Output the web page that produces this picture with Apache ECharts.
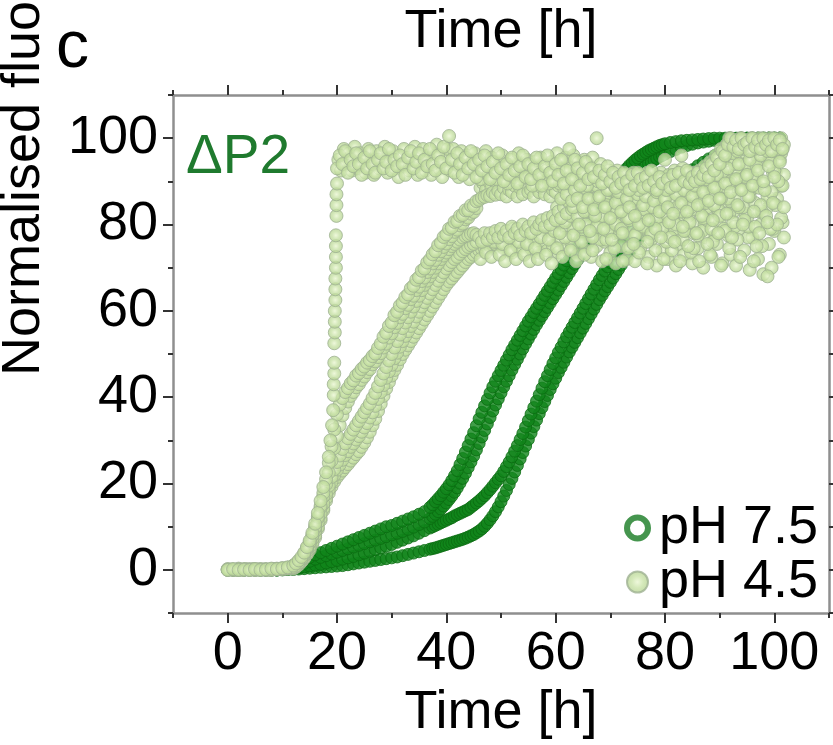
<!DOCTYPE html>
<html><head><meta charset="utf-8">
<script src="https://cdn.jsdelivr.net/npm/echarts@6/dist/echarts.min.js"></script>
<style>html,body{margin:0;padding:0;background:#fff}#c{width:833px;height:745px}</style>
</head><body><div id="c"></div>
<script>
const FONT = "'Liberation Sans', Arial, Helvetica, sans-serif";
const majorTicks = [0, 20, 40, 60, 80, 100];
const minorTicks = [-10, 10, 30, 50, 70, 90, 110];

// sampling times of the pH 7.5 traces [h]
const tDark = [0,1,2,3,4,5,6,7,8,9,
10,11,12,13,14,15,16,17,18,19,20,21,22,23,24,25,26,27,28,29,30,31,32,33,34,35,36,37,
37.5,38,38.5,39,39.5,40,40.5,41,41.5,42,42.5,43,43.5,44,
44.5,45,45.5,46,46.5,47,47.5,48,48.5,49,49.5,50,50.5,51,51.5,52,52.5,53,53.5,54,54.5,55,55.5,56,56.5,57,57.5,58,58.5,59,59.5,60,60.5,61,61.5,62,62.5,63,63.5,64,64.5,65,65.5,66,66.5,67,67.5,68,68.5,69,69.5,70,70.5,71,71.5,72,72.5,73,73.5,74,74.5,75,75.5,76,76.5,77,77.5,78,78.5,79,79.5,80,
81,82,83,84,85,86,87,88,89,90,91,92,93,94,95,96,97,98,99,100,101];

// pH 7.5 replicates (normalised fluorescence, %)
const ph75_rep1 = [0,0,0,0,0,0,0,0,0,0,
0.3,0.6,1.0,1.6,2.2,2.9,3.5,4.0,4.5,5.0,5.5,6.0,6.5,7.0,7.5,8.0,8.5,9.0,9.5,10.0,10.3,10.8,11.3,11.8,12.3,12.9,13.5,14.5,
15.1,15.8,16.5,17.2,18.0,18.8,19.7,20.7,21.8,23.0,24.4,25.8,27.3,28.8,
30.3,31.8,33.4,35.0,36.5,38.0,39.5,41.0,42.4,43.7,45.0,46.2,47.4,48.6,49.8,51.0,52.1,53.2,54.3,55.4,56.5,57.6,58.6,59.6,60.6,61.6,62.6,63.6,64.6,65.6,66.6,67.6,68.6,69.6,70.6,71.6,72.6,73.6,74.6,75.6,76.6,77.6,78.6,79.6,80.6,81.6,82.6,83.6,84.6,85.6,86.6,87.6,88.6,89.6,90.5,91.4,92.2,93.0,93.7,94.3,94.9,95.4,95.9,96.3,96.7,97.1,97.4,97.7,98.0,98.3,98.5,98.7,
99.0,99.2,99.4,99.5,99.6,99.7,99.8,99.9,100,100,100,100,100,100,100,100,100,100,100,100,100];
const ph75_rep2 = [0,0,0,0,0,0,0,0,0,0,
0.2,0.4,0.7,1.1,1.5,2.0,2.5,2.9,3.3,3.7,4.1,4.5,4.9,5.3,5.7,6.1,6.5,6.9,7.3,7.7,8.1,8.5,8.9,9.4,9.9,10.5,11.1,11.9,
12.4,12.9,13.5,14.1,14.8,15.5,16.3,17.1,18.0,19.0,20.1,21.2,22.4,23.7,
25.0,26.4,27.8,29.3,30.8,32.3,33.8,35.3,36.8,38.2,39.6,41.0,42.4,43.7,45.0,46.3,47.6,48.8,50.0,51.2,52.4,53.5,54.6,55.7,56.8,57.8,58.8,59.8,60.8,61.8,62.8,63.8,64.8,65.8,66.8,67.8,68.8,69.8,70.8,71.8,72.8,73.8,74.8,75.8,76.8,77.8,78.8,79.8,80.8,81.8,82.8,83.8,84.8,85.8,86.7,87.6,88.4,89.2,90.0,90.7,91.4,92.0,92.6,93.1,93.6,94.1,94.5,94.9,95.3,95.7,96.0,96.3,
96.9,97.4,97.9,98.3,98.6,98.9,99.1,99.3,99.5,99.6,99.7,99.8,99.9,100,100,100,100,100,100,100,100];
const ph75_rep3 = [0,0,0,0,0,0,0,0,0,0,
0.1,0.2,0.3,0.5,0.7,0.9,1.1,1.3,1.6,1.9,2.2,2.5,2.8,3.1,3.5,3.9,4.3,4.7,5.1,5.5,5.9,6.4,6.9,7.4,7.9,8.5,9.1,9.7,
10.0,10.3,10.6,10.9,11.2,11.5,11.8,12.1,12.5,12.8,13.1,13.4,13.7,14.0,
14.5,15.0,15.5,16.0,16.6,17.2,17.9,18.6,19.4,20.2,21.0,21.8,22.8,23.9,25.0,26.2,27.5,28.8,30.2,31.6,33.1,34.6,36.1,37.6,39.1,40.6,42.1,43.6,45.0,46.4,47.8,49.1,50.4,51.6,52.8,54.0,55.1,56.2,57.3,58.4,59.5,60.6,61.7,62.8,63.9,65.0,66.1,67.2,68.2,69.2,70.2,71.2,72.2,73.2,74.2,75.2,76.1,77.0,77.9,78.8,79.6,80.4,81.2,82.0,82.8,83.5,84.2,84.9,85.6,86.3,86.9,87.5,
88.7,89.8,90.8,91.8,92.7,93.6,94.4,95.2,95.9,96.6,97.2,97.7,98.2,98.6,99.0,99.3,99.6,99.8,100,100,100];
const ph75_rep4 = [0,0,0,0,0,0,0,0,0,0,
0,0.1,0.1,0.2,0.3,0.4,0.5,0.6,0.7,0.8,0.9,1.0,1.2,1.4,1.6,1.8,2.0,2.2,2.4,2.6,2.8,3.0,3.3,3.6,3.9,4.2,4.5,4.8,
4.95,5.1,5.3,5.5,5.7,5.9,6.1,6.3,6.5,6.7,6.9,7.1,7.35,7.6,
7.9,8.2,8.6,9.0,9.5,10.1,10.8,11.6,12.5,13.5,14.6,15.8,17.1,18.4,19.8,21.2,22.7,24.2,25.7,27.2,28.7,30.2,31.7,33.2,34.7,36.2,37.6,39.0,40.4,41.8,43.1,44.4,45.7,46.9,48.1,49.3,50.5,51.6,52.7,53.8,54.9,56.0,57.1,58.2,59.3,60.4,61.5,62.6,63.6,64.6,65.6,66.6,67.6,68.6,69.6,70.6,71.6,72.6,73.6,74.6,75.5,76.4,77.3,78.2,79.1,80.0,80.9,81.8,82.6,83.4,84.2,85.0,
86.4,87.7,88.9,90.0,91.0,92.0,92.9,93.7,94.5,95.2,95.9,96.5,97.1,97.6,98.1,98.5,98.9,99.2,99.5,99.7,99.9];

// pH 4.5 replicates, [time h, fluorescence %]
const ph45_rep1 = [[0,0],[1,0.2],[2,0],[3,0.1],[4,0],[5,0.2],[6,0],[7,0.1],[8,0.3],[9,0.2],[10,0.4],[11,0.6],
[12,1.0],[12.5,1.5],[13,2.2],[13.5,3.0],[14,4.0],[14.5,5.3],[15,6.8],[15.5,8.6],[16,10.7],[16.5,13.2],[17,16],[17.5,19.2],[18,22.6],[18.5,26.2],[18.8,30],[19.1,33.5],[19.3,37],
[19.4,40.5],[19.4,43],[19.5,45.5],[19.5,48],[19.5,52.5],[19.6,55],[19.6,57.5],[19.6,60],[19.7,62.5],[19.7,65],[19.7,67.5],[19.8,70],[19.8,72.5],[19.8,75],[19.8,77.5],[19.9,82],[19.9,84.5],[19.9,87],[20,89.5],
[20,93],[20.5,96],[21,94],[21.5,97],[22,92],[22.5,95],[23,93.5],[23.5,96.5],[24,94],[24.5,91.5],[25,95.5],[25.5,93],[26,97],[26.5,94],[27,92],[27.5,95],[28,96.5],[28.5,93],[29,94.5],[29.5,97.5],[30,92.5],[30.5,95],[31,93.5],[31.5,96],[32,94],[32.5,91.5],[33,95.5],[33.5,97],[34,93],[34.5,94.5],[35,96.5],[35.5,92],[36,95],[36.5,93.5],[37,97.5],[37.5,94],[38,92.5],[38.5,96],[39,94.5],[39.5,98],[40,93],[40.5,100.5],[41,95],[41.5,92],[42,96.5],[42.5,94],[43,91.5],[43.5,95.5],[44,93],[44.5,97],[45,94],[45.5,91],[46,95],[46.5,92.5],[47,96],[47.5,93.5],[48,90.5],[48.5,94.5],[49,92],[49.5,96.5],[50,93],[50.5,90],[51,94],[51.5,91.5],[52,95.5],[52.5,92.5],[53,89.5],[53.5,93.5],[54,96],[54.5,91],[55,94],[55.5,90.5],[56,93],[56.5,95.5],[57,91.5],[57.5,89],[58,93.5],[58.5,96],[59,92],[59.5,90],[60,94],[60.5,91.5],[61,95],[61.5,89.5],[62,92.5],[62.5,97.5],[63,90.5],[63.5,95],[64,93],[64.5,89],[65,92],[65.5,94.5],[66,90.5],[66.5,93],[67,91],[67.5,100],[68,92.5],[68.5,89.5],[69,91.5],[69.5,93.5],[70,90],[70.5,92],[71,88.5],[71.5,91],[72,89.5],[72.5,92],[73,90],[73.5,88],[74,91.5],[74.5,89],[75,92],[75.5,90.5],[76,88.5],[76.5,91],[77,89],[77.5,92.5],[78,90],[78.5,88],[79,91],[79.5,89.5],[80,95],[80.5,90.5],[81,88.5],[81.5,91.5],[82,89],[82.5,92],[83,96],[83.5,90],[84,92.5],[84.5,89.5],[85,91],[85.5,90],[86,92],[86.5,90.5],[87,91.5],[87.5,93],[88,91],[88.5,94],[89,92.5],[89.5,95.5],[90,94],[90.5,97],[91,96],[91.5,98.5],[92,100],[92.5,98],[93,99.5],[93.5,97.5],[94,100],[94.5,98.5],[95,99],[95.5,97],[96,100],[96.5,98],[97,99.5],[97.5,97.5],[98,100],[98.5,98.5],[99,99.5],[99.5,97],[100,100],[100.5,98.5],[101,99.5],[101.5,97.5]];

const ph45_rep2 = [[0,0.1],[1,0],[2,0.2],[3,0],[4,0.1],[5,0],[6,0.2],[7,0.1],[8,0],[9,0.2],[10,0.3],[11,0.4],
[12,0.6],[12.5,1.0],[13,1.7],[13.5,2.6],[14,3.7],[14.5,5],[15,6.4],[15.5,8.1],[16,10],[16.5,12.3],[17,14.8],[17.5,17.8],[18,21],[18.5,24.8],[19,28.6],[19.5,32.5],[20,36],[20.5,38.3],[21,39.8],[21.5,41.2],[22,42.1],[22.5,43.2],[23,43.9],[23.5,45],[24,45.6],[24.5,46.5],[25,47.1],[25.5,48],[26,48.6],[26.5,49.5],[27,50.1],[27.5,51.4],[28,52.4],[28.5,54],[29,54.9],[29.5,56.5],[30,57.3],[30.5,59],[31,59.8],[31.5,61.2],[32,61.9],[32.5,63.2],[33,63.8],[33.5,65.2],[34,65.8],[34.5,67.2],[35,67.8],[35.5,69.3],[36,69.8],[36.5,71.2],[37,71.9],[37.5,73.1],[38,73.8],[38.5,75.2],[39,75.8],[39.5,77.1],[40,77.7],[40.5,79],[41,79.3],[41.5,80.6],[42,80.8],[42.5,82],[43,82.2],[43.5,83.3],[44,83.3],[44.5,84.4],[45,84.3],[45.5,85.4],[46,85.7],[46.5,86.2],[47,86.4],[47.5,86.8],[48,86.6],[48.5,87.4],[49,86.9],[49.5,87.8],
[50,87],[50.5,88.5],[51,86.5],[51.5,88],[52,87.5],[52.5,89],[53,86.5],[53.5,88.5],[54,87],[54.5,89.5],[55,87.5],[55.5,88],[56,86.5],[56.5,89],[57,87.5],[57.5,88.5],[58,87],[58.5,89.5],[59,86.5],[59.5,88],[60,87.5],[60.5,89],[61,86],[61.5,88.5],[62,87],[62.5,89.5],[63,85.5],[63.5,88],[64,86],[64.5,90],[65,84],[65.5,88.5],[66,86],[66.5,91],[67,83.5],[67.5,89],[68,86.5],[68.5,92],[69,84],[69.5,88],[70,81.5],[70.5,90],[71,85],[71.5,87.5],[72,83],[72.5,91],[73,86],[73.5,84],[74,89],[74.5,82],[75,87],[75.5,90.5],[76,84.5],[76.5,86.5],[77,81],[77.5,89],[78,85.5],[78.5,87.5],[79,83],[79.5,91],[80,86],[80.5,84],[81,89.5],[81.5,82.5],[82,87],[82.5,90],[83,85],[83.5,88],[84,83],[84.5,91.5],[85,86.5],[85.5,89],[86,84.5],[86.5,91],[87,87.5],[87.5,90.5],[88,85.5],[88.5,93.5],[89,88.5],[89.5,91.5],[90,86],[90.5,95],[91,89.5],[91.5,93],[92,87.5],[92.5,96.5],[93,90.5],[93.5,94],[94,88],[94.5,97.5],[95,91.5],[95.5,95],[96,89],[96.5,98.5],[97,92.5],[97.5,96],[98,90],[98.5,99],[99,93.5],[99.5,97],[100,91],[100.5,99.5],[101,94.5],[101.5,97.5]];

const ph45_rep3 = [[0,0],[1,0.1],[2,0.3],[3,0.1],[4,0],[5,0.2],[6,0.1],[7,0],[8,0.2],[9,0.1],[10,0.2],[11,0.3],
[12,0.3],[12.5,0.7],[13,1.2],[13.5,1.9],[14,2.7],[14.5,3.6],[15,4.6],[15.5,6],[16,7.5],[16.5,9.5],[17,11.5],[17.5,13.8],[18,16],[18.5,17.8],[19,19.3],[19.5,20.5],[20,21.5],[20.5,22.3],[21,23],[21.5,23.8],[22,24.5],[22.5,25.3],[23,26],[23.5,26.8],[24,27.5],[24.5,28.5],[25,29.5],[25.5,30.7],[26,32],[26.5,33.5],[27,35],[27.5,36.8],[28,38.5],[28.5,40.3],[29,42],[29.5,43.5],[30,45],[30.5,46.3],[31,47.5],[31.5,48.8],[32,50],[32.5,51],[33,52],[33.5,53],[34,54],[34.5,55],[35,56],[35.5,57],[36,58],[36.5,59],[37,60],[37.5,61],[38,62],[38.5,63],[39,64],[39.5,65],[40,66],[40.5,66.8],[41,67.5],[41.5,68.3],[42,69],[42.5,69.8],[43,70.5],[43.5,71.3],[44,72],[44.5,72.5],[45,73],[45.5,73.5],[46,74],[46.5,74.3],[47,74.5],[47.5,74.8],[48,75],[48.5,75.3],[49,75.5],[49.5,75.8],
[50,76],[50.5,74.5],[51,77],[51.5,75.5],[52,73.5],[52.5,76.5],[53,75],[53.5,77.5],[54,74],[54.5,76],[55,78],[55.5,74.5],[56,77],[56.5,75.5],[57,73.5],[57.5,78],[58,76],[58.5,74],[59,77.5],[59.5,75],[60,79],[60.5,73.5],[61,76.5],[61.5,78.5],[62,74.5],[62.5,77],[63,75],[63.5,79.5],[64,73],[64.5,76.5],[65,78.5],[65.5,74],[66,81],[66.5,72.5],[67,77],[67.5,75],[68,79.5],[68.5,71.5],[69,76],[69.5,82],[70,73.5],[70.5,78],[71,71],[71.5,80.5],[72,75],[72.5,83],[73,72],[73.5,77.5],[74,79.5],[74.5,71.5],[75,84],[75.5,74.5],[76,78],[76.5,81.5],[77,72.5],[77.5,76.5],[78,83.5],[78.5,70.5],[79,79],[79.5,74],[80,85],[80.5,72],[81,77.5],[81.5,81],[82,70.5],[82.5,75.5],[83,83],[83.5,73],[84,78.5],[84.5,86],[85,71],[85.5,80],[86,74.5],[86.5,84],[87,70],[87.5,77],[88,82.5],[88.5,72.5],[89,87],[89.5,75.5],[90,80.5],[90.5,71],[91,85.5],[91.5,77.5],[92,73],[92.5,83],[93,70.5],[93.5,79],[94,88],[94.5,74],[95,81.5],[95.5,69.5],[96,77],[96.5,85],[97,72],[97.5,80],[98,68.5],[98.5,83.5],[99,75.5],[99.5,70],[100,78.5],[100.5,86],[101,73],[101.5,80.5]];

const ph45_rep4 = [[0,0.2],[1,0.1],[2,0],[3,0.2],[4,0.1],[5,0],[6,0.1],[7,0.2],[8,0.1],[9,0.3],[10,0.4],[11,0.5],
[12,0.5],[12.5,1],[13,1.6],[13.5,2.4],[14,3.3],[14.5,4.3],[15,5.5],[15.5,7.2],[16,9],[16.5,11],[17,13],[17.5,15.3],[18,17.5],[18.5,19.5],[19,21.5],[19.5,23.3],[20,25],[20.5,26.5],[21,28],[21.5,29.3],[22,30.5],[22.5,31.5],[23,32.5],[23.5,33.5],[24,34.5],[24.5,35.5],[25,36.5],[25.5,37.5],[26,38.5],[26.5,39.8],[27,41],[27.5,42.5],[28,44],[28.5,45.5],[29,47],[29.5,48.5],[30,50],[30.5,51.5],[31,53],[31.5,54.5],[32,56],[32.5,57.3],[33,58.5],[33.5,59.8],[34,61],[34.5,62.3],[35,63.5],[35.5,64.8],[36,66],[36.5,67],[37,68],[37.5,69],[38,70],[38.5,71],[39,72],[39.5,72.8],[40,73.5],[40.5,74.3],[41,75],[41.5,75.5],[42,76],[42.5,76.5],[43,77],[43.5,77.3],[44,77.5],[44.5,77.8],[45,78],[45.5,77.6],
[46,77],[46.5,76],[47,78],[47.5,76.5],[48,78],[48.5,77],[49,78.5],[49.5,77],[50,79],[50.5,77.5],[51,78.5],[51.5,77],[52,79.5],[52.5,78],[53,79],[53.5,77.5],[54,80],[54.5,78.5],[55,79.5],[55.5,78],[56,80.5],[56.5,79],[57,80],[57.5,81],[58,79.5],[58.5,81.5],[59,80],[59.5,82],[60,81],[60.5,83],[61,81.5],[61.5,84],[62,82.5],[62.5,85],[63,83.5],[63.5,86],[64,82],[64.5,88],[65,84.5],[65.5,80],[66,88.5],[66.5,83],[67,86],[67.5,79.5],[68,89],[68.5,82],[69,86.5],[69.5,78.5],[70,88],[70.5,83.5],[71,80],[71.5,86.5],[72,79],[72.5,84],[73,88.5],[73.5,81],[74,85.5],[74.5,77.5],[75,89],[75.5,82.5],[76,79.5],[76.5,87],[77,84],[77.5,78],[78,89.5],[78.5,81.5],[79,86],[79.5,79],[80,88.5],[80.5,82],[81,77],[81.5,85.5],[82,80],[82.5,89],[83,83],[83.5,78.5],[84,87],[84.5,80.5],[85,90],[85.5,83.5],[86,77.5],[86.5,88],[87,81.5],[87.5,85],[88,90.5],[88.5,79],[89,84.5],[89.5,88.5],[90,82],[90.5,92],[91,78.5],[91.5,86],[92,90],[92.5,80.5],[93,93],[93.5,84],[94,88.5],[94.5,81],[95,94],[95.5,86.5],[96,91],[96.5,79.5],[97,95.5],[97.5,84.5],[98,89.5],[98.5,82],[99,96],[99.5,87.5],[100,92.5],[100.5,80],[101,95],[101.5,89]];

const ph45_rep5 = [[0.5,0.1],[2.5,0],[4.5,0.2],[6.5,0.1],[8.5,0.2],[10.5,0.3],[12,0.8],[13,2],[14,3.6],[14.5,4.8],[15,6.2],[15.5,7.9],[16,9.7],[16.5,12],[17,14.4],[17.5,17],[18,19.8],[18.5,22.5],[19,25.3],[19.5,28.2],[20,31],[20.5,33.5],[21,35.8],[21.5,37.5],[22,39],[22.5,40.3],[23,41.2],[23.5,42.3],[24,43],[24.5,44],[25,44.8],[25.5,45.8],[26,46.5],[26.5,47.6],[27,48.3],[27.5,49.3],[28,50.2],[28.5,51.5],[29,52.4],[29.5,53.8],[30,54.8],[30.5,56.2],[31,57.2],[31.5,58.5],[32,59.3],[32.5,60.6],[33,61.4],[33.5,62.7],[34,63.5],[34.5,64.8],[35,65.6],[35.5,66.9],[36,67.7],[36.5,69],[37,69.8],[37.5,71],[38,71.8],[38.5,73],[39,73.8],[39.5,74.8],[40,75.6],[40.5,76.6],[41,77.3],[41.5,78.3],[42,78.8],[42.5,79.8],[43,80.2],[43.5,81.2],[44,81.6],[44.5,82.5],[45,82.9],[45.5,83.8],
[46.25,88.5],[46.75,89.5],[47.25,88],[47.75,90],[48.25,88.5],[48.75,90.5],[49.25,89],[49.75,90],[50.25,88.5],[50.75,91],[51.25,89],[51.75,90.5],[52.25,88],[52.75,90],[53.25,89.5],[53.75,91],[54.25,88.5],[54.75,90],[55.25,89],[55.75,91.5],[56.25,88.5],[56.75,90],[57.25,89.5],[57.75,91],[58.25,88],[58.75,90.5],[59.25,89],[59.75,91],[60.25,88.5],[60.75,90],[61.25,87],[61.75,89.5],[62.25,85.5],[62.75,88],[63.25,84],[63.75,91.5],[64.25,80],[64.75,87],[65.25,83],[65.75,93],[66.25,78.5],[66.75,89],[67.25,82],[67.75,86],[68.25,92],[68.75,79],[69.25,84.5],[69.75,88.5],[70.25,76.5],[70.75,91],[71.25,83],[71.75,86],[72.25,78],[72.75,89.5],[73.25,81.5],[73.75,91],[74.25,75.5],[74.75,86],[75.25,80],[75.75,88],[76.25,83.5],[76.75,76],[77.25,90.5],[77.75,84],[78.25,79],[78.75,91],[79.25,77],[79.75,85.5],[80.25,88],[80.75,80.5],[81.25,91.5],[81.75,76],[82.25,84],[82.75,87.5],[83.25,79.5],[83.75,91],[84.25,75],[84.75,84],[85.25,88],[85.75,78],[86.25,91.5],[86.75,82],[87.25,86],[87.75,75.5],[88.25,89.5],[88.75,81],[89.25,93.5],[89.75,78],[90.25,86],[90.75,96],[91.25,82.5],[91.75,89.5],[92.25,77],[92.75,94],[93.25,84.5],[93.75,98],[94.25,80],[94.75,91],[95.25,86.5],[95.75,99.5],[96.25,83],[96.75,93.5],[97.25,78],[97.75,97],[98.25,88],[98.75,80.5],[99.25,94.5],[99.75,85],[100.25,99],[100.75,90],[101.25,96.5],[101.75,84]];

const ph45_rep6 = [[1.5,0],[3.5,0.2],[5.5,0.1],[7.5,0],[9.5,0.2],[11.5,0.4],[12.5,0.8],[13.5,2],[14,2.8],[14.5,3.8],[15,5],[15.5,6.4],[16,8],[16.5,9.9],[17,12],[17.5,14.3],[18,16.6],[18.5,18.6],[19,20.4],[19.5,21.9],[20,23.2],[20.5,24.4],[21,25.5],[21.5,26.6],[22,27.5],[22.5,28.5],[23,29.3],[23.5,30.2],[24,31],[24.5,32],[25,33],[25.5,34],[26,35.3],[26.5,36.5],[27,38],[27.5,39.6],[28,41.2],[28.5,42.8],[29,44.5],[29.5,46],[30,47.5],[30.5,49],[31,50.3],[31.5,51.7],[32,53],[32.5,54.2],[33,55.3],[33.5,56.5],[34,57.5],[34.5,58.7],[35,59.8],[35.5,61],[36,62],[36.5,63],[37,64],[37.5,65],[38,66],[38.5,67],[39,68],[39.5,68.9],[40,69.8],[40.5,70.6],[41,71.3],[41.5,72],[42,72.5],[42.5,73.2],[43,73.8],[43.5,74.3],[44,74.8],[44.5,75.2],[45,75.5],[45.5,76],
[46.25,72],[46.75,76.5],[47.25,73.5],[47.75,77],[48.25,72.5],[48.75,76],[49.25,78],[49.75,73],[50.25,75.5],[50.75,71.5],[51.25,77.5],[51.75,74],[52.25,79],[52.75,72],[53.25,76],[53.75,78.5],[54.25,73],[54.75,75.5],[55.25,71.5],[55.75,79.5],[56.25,74.5],[56.75,72],[57.25,77],[57.75,80],[58.25,73],[58.75,76.5],[59.25,71],[59.75,78.5],[60.25,74.5],[60.75,80.5],[61.25,72.5],[61.75,77],[62.25,81],[62.75,74],[63.25,79],[63.75,71.5],[64.25,84],[64.75,76],[65.25,73],[65.75,86.5],[66.25,79.5],[66.75,74],[67.25,89],[67.75,82],[68.25,76.5],[68.75,87],[69.25,72],[69.75,80],[70.25,85.5],[70.75,74.5],[71.25,89],[71.75,78.5],[72.25,71.5],[72.75,83],[73.25,87],[73.75,75],[74.25,81.5],[74.75,90],[75.25,73.5],[75.75,79],[76.25,86.5],[76.75,71],[77.25,82],[77.75,88],[78.25,74],[78.75,78.5],[79.25,89.5],[79.75,72],[80.25,81],[80.75,86.5],[81.25,74],[81.75,89],[82.25,78],[82.75,71.5],[83.25,86],[83.75,81.5],[84.25,89.5],[84.75,73.5],[85.25,78],[85.75,85],[86.25,71.5],[86.75,90],[87.25,80],[87.75,84],[88.25,73],[88.75,89],[89.25,77.5],[89.75,83],[90.25,70.5],[90.75,87.5],[91.25,92],[91.75,74.5],[92.25,85],[92.75,79.5],[93.25,90.5],[93.75,72.5],[94.25,94],[94.75,82.5],[95.25,77],[95.75,88],[96.25,71.5],[96.75,91.5],[97.25,83],[97.75,75],[98.25,95],[98.75,68],[99.25,86],[99.75,79],[100.25,92],[100.75,72.5],[101.25,89],[101.75,77]];

const ph45_rep7 = [[20.25,95],[20.75,92.5],[21.25,97.5],[21.75,94.5],[22.25,96.5],[22.75,92.5],[23.25,98],[23.75,93],[24.25,96.5],[24.75,94.5],[25.25,92],[25.75,97.5],[26.25,95],[26.75,91.5],[27.25,97],[27.75,93],[28.25,95],[28.75,98],[29.25,92],[29.75,95.5],[30.25,97],[30.75,93],[31.25,91],[31.75,94],[32.25,97.5],[32.75,94.5],[33.25,92.5],[33.75,95],[34.25,98],[34.75,91.5],[35.25,94],[35.75,97.5],[36.25,92.5],[36.75,96],[37.25,91.5],[37.75,96.5],[38.25,98.5],[38.75,93],[39.25,91],[39.75,95],[40.25,97.5],[40.75,92.5],[41.25,97.5],[41.75,94],[42.25,91],[42.75,97],[43.25,93.5],[43.75,96],[44.25,90.5],[44.75,94.5],[45.25,96.5],[45.75,93],[46.25,90.5],[46.75,94.5],[47.25,97],[47.75,91.5],[48.25,95.5],[48.75,92.5],[49.25,90.5],[49.75,94],[50.25,96],[50.75,92],[51.25,89.5],[51.75,95],[52.25,91],[52.75,94.5],[53.25,96.5],[53.75,90.5],[54.25,93.5],[54.75,95],[55.25,91.5],[55.75,89],[56.25,94.5],[56.75,92],[57.25,95.5],[57.75,90.5],[58.25,92.5],[58.75,89.5],[59.25,94.5],[59.75,92.5],[60.25,96.5],[60.75,89.5],[61.25,93],[61.75,95.5],[62.25,90.5],[62.75,93],[63.25,96],[63.75,91],[64.25,94.5],[64.75,91.5],[65.25,95],[65.75,89],[66.25,93.5],[66.75,95.5],[67.25,92.5],[67.75,90],[68.25,94],[68.75,91.5],[69.25,90],[69.75,92.5],[70.25,91.5],[70.75,89],[71.25,92.5],[71.75,90],[72.25,91.5],[72.75,88.5],[73.25,91.5],[73.75,89.5],[74.25,92],[74.75,90.5],[75.25,88],[75.75,91.5],[76.25,89.5],[76.75,92],[77.25,90.5],[77.75,88.5],[78.25,91.5],[78.75,89.5],[79.25,92],[79.75,90.5],[80.25,88],[80.75,91.5],[81.25,90],[81.75,92.5],[82.25,89.5],[82.75,91],[83.25,93],[83.75,90.5],[84.25,92],[84.75,91],[85.25,92],[85.75,90.5],[86.25,92.5],[86.75,91],[87.25,93.5],[87.75,92],[88.25,94.5],[88.75,93.5],[89.25,96],[89.75,95],[90.25,97.5],[90.75,96.5],[91.25,98.5],[91.75,100],[92.25,98.5],[92.75,99.5],[93.25,97],[93.75,100],[94.25,98],[94.75,99.5],[95.25,98.5],[95.75,100],[96.25,97.5],[96.75,99],[97.25,100],[97.75,98],[98.25,99.5],[98.75,97],[99.25,100],[99.75,98.5],[100.25,99.5],[100.75,97.5],[101.25,100],[101.75,98.5]];

const ph45_rep8 = [[60.25,84],[60.75,78],[61.25,86.5],[61.75,80.5],[62.25,88],[62.75,82],[63.25,77.5],[63.75,86],[64.25,90.5],[64.75,79.5],[65.25,88],[65.75,83],[66.25,92],[66.75,77],[67.25,85.5],[67.75,91.5],[68.25,80.5],[68.75,88.5],[69.25,76.5],[69.75,84],[70.25,92],[70.75,81],[71.25,87],[71.75,78],[72.25,85],[72.75,90.5],[73.25,74.5],[73.75,83.5],[74.25,89],[74.75,78],[75.25,86],[75.75,81.5],[76.25,90.5],[76.75,84.5],[77.25,77],[77.75,88.5],[78.25,82.5],[78.75,86.5],[79.25,80],[79.75,90],[80.25,76],[80.75,87.5],[81.25,83],[81.75,79],[82.25,91],[82.75,84.5],[83.25,76.5],[83.75,88],[84.25,82],[84.75,87],[85.25,74.5],[85.75,91],[86.25,84],[86.75,78.5],[87.25,89],[87.75,81],[88.25,86.5],[88.75,76],[89.25,90],[89.75,83.5],[90.25,92.5],[90.75,79],[91.25,88],[91.75,82.5],[92.25,95],[92.75,86],[93.25,76.5],[93.75,91],[94.25,84],[94.75,96.5],[95.25,79.5],[95.75,89.5],[96.25,93.5],[96.75,75],[97.25,88.5],[97.75,83],[98.25,97.5],[98.75,86.5],[99.25,79],[99.75,92],[100.25,84.5],[100.75,95.5],[101.25,81.5],[101.75,91.5]];

function zip(t, v) {
  const n = Math.min(t.length, v.length), out = [];
  for (let i = 0; i < n; i++) out.push([t[i], v[i]]);
  return out;
}

const darkStyle = { color: '#10841a', borderColor: '#0a6b10', borderWidth: 1 };
const lightFill = { type: 'radial', x: 0.5, y: 0.5, r: 0.5, colorStops: [
  { offset: 0, color: '#eaf6d2' }, { offset: 0.5, color: '#cae3a9' }, { offset: 1, color: '#b5d292' }] };
const lightStyle = { color: lightFill, borderColor: '#9fb292', borderWidth: 1 };

function sc(name, data, style, size) {
  return { type: 'scatter', name, data, symbol: 'circle', symbolSize: size, itemStyle: style,
    xAxisIndex: 0, yAxisIndex: 0, silent: true, animation: false };
}

const series = [
  sc('pH 7.5', zip(tDark, ph75_rep4), darkStyle, 12),
  sc('pH 7.5', zip(tDark, ph75_rep3), darkStyle, 12),
  sc('pH 7.5', zip(tDark, ph75_rep2), darkStyle, 12),
  sc('pH 7.5', zip(tDark, ph75_rep1), darkStyle, 12),
  sc('pH 4.5', ph45_rep3, lightStyle, 13),
  sc('pH 4.5', ph45_rep6, lightStyle, 13),
  sc('pH 4.5', ph45_rep8, lightStyle, 13),
  sc('pH 4.5', ph45_rep4, lightStyle, 13),
  sc('pH 4.5', ph45_rep5, lightStyle, 13),
  sc('pH 4.5', ph45_rep2, lightStyle, 13),
  sc('pH 4.5', ph45_rep7, lightStyle, 13),
  sc('pH 4.5', ph45_rep1, lightStyle, 13)
];

const lineStyle = { color: '#8f8f8f', width: 2.5 };
const tickStyle = { color: '#333', width: 2 };
const nameStyle = { fontSize: 54, color: '#000', fontFamily: FONT };

function axis(pos, ticks, len, opts) {
  return Object.assign({
    type: 'value', position: pos, min: -10, max: 110, interval: 10,
    axisLine: { show: false, onZero: false },
    axisTick: { show: true, inside: false, length: len, customValues: ticks, lineStyle: tickStyle },
    axisLabel: { show: false },
    splitLine: { show: false }
  }, opts || {});
}

const xAxis = [
  axis('bottom', majorTicks, 10, {
    axisLine: { show: true, onZero: false, lineStyle },
    axisLabel: { show: true, customValues: majorTicks, margin: 14, fontSize: 54, color: '#000', fontFamily: FONT },
    name: 'Time [h]', nameLocation: 'middle', nameGap: 68, nameTextStyle: nameStyle
  }),
  axis('bottom', minorTicks, 5),
  axis('top', majorTicks, 10, {
    axisLine: { show: true, onZero: false, lineStyle },
    name: 'Time [h]', nameLocation: 'middle', nameGap: 36, nameTextStyle: nameStyle
  }),
  axis('top', minorTicks, 5)
];
const yAxis = [
  axis('left', majorTicks, 10, {
    axisLine: { show: true, onZero: false, lineStyle },
    axisLabel: { show: true, customValues: majorTicks, margin: 15, fontSize: 54, color: '#000', fontFamily: FONT }
  }),
  axis('left', minorTicks, 5),
  axis('right', majorTicks, 10, { axisLine: { show: true, onZero: false, lineStyle } }),
  axis('right', minorTicks, 5)
];

const chart = echarts.init(document.getElementById('c'), null, { renderer: 'canvas' });
chart.setOption({
  animation: false,
  backgroundColor: '#ffffff',
  grid: { left: 173, right: 4, top: 92, bottom: 124, containLabel: false },
  xAxis, yAxis, series,
  legend: {
    orient: 'vertical', left: 619, top: 496, itemWidth: 21, itemHeight: 21, itemGap: 0,
    selectedMode: false,
    textStyle: { fontSize: 54, fontFamily: FONT, color: '#000', lineHeight: 53, padding: [0, 0, 0, 6] },
    data: [
      { name: 'pH 7.5', icon: 'circle', itemStyle: { color: '#ffffff', borderColor: '#177a22', borderWidth: 6 } },
      { name: 'pH 4.5', icon: 'circle', itemStyle: { color: lightFill, borderColor: '#9fb292', borderWidth: 2 } }
    ]
  },
  graphic: [
    { type: 'text', left: 56, top: 16, style: { text: 'c', fontSize: 66, fontFamily: FONT, fill: '#000' } },
    { type: 'text', left: 186, top: 130, style: { text: '\u0394P2', fontSize: 55, fontFamily: FONT, fill: '#1f7a2e' } },
    { type: 'text', x: 24, y: 376, rotation: Math.PI / 2,
      style: { text: 'Normalised fluorescence', fontSize: 54, fontFamily: FONT, fill: '#000', align: 'left', verticalAlign: 'middle' } }
  ]
});
</script>
</body></html>
